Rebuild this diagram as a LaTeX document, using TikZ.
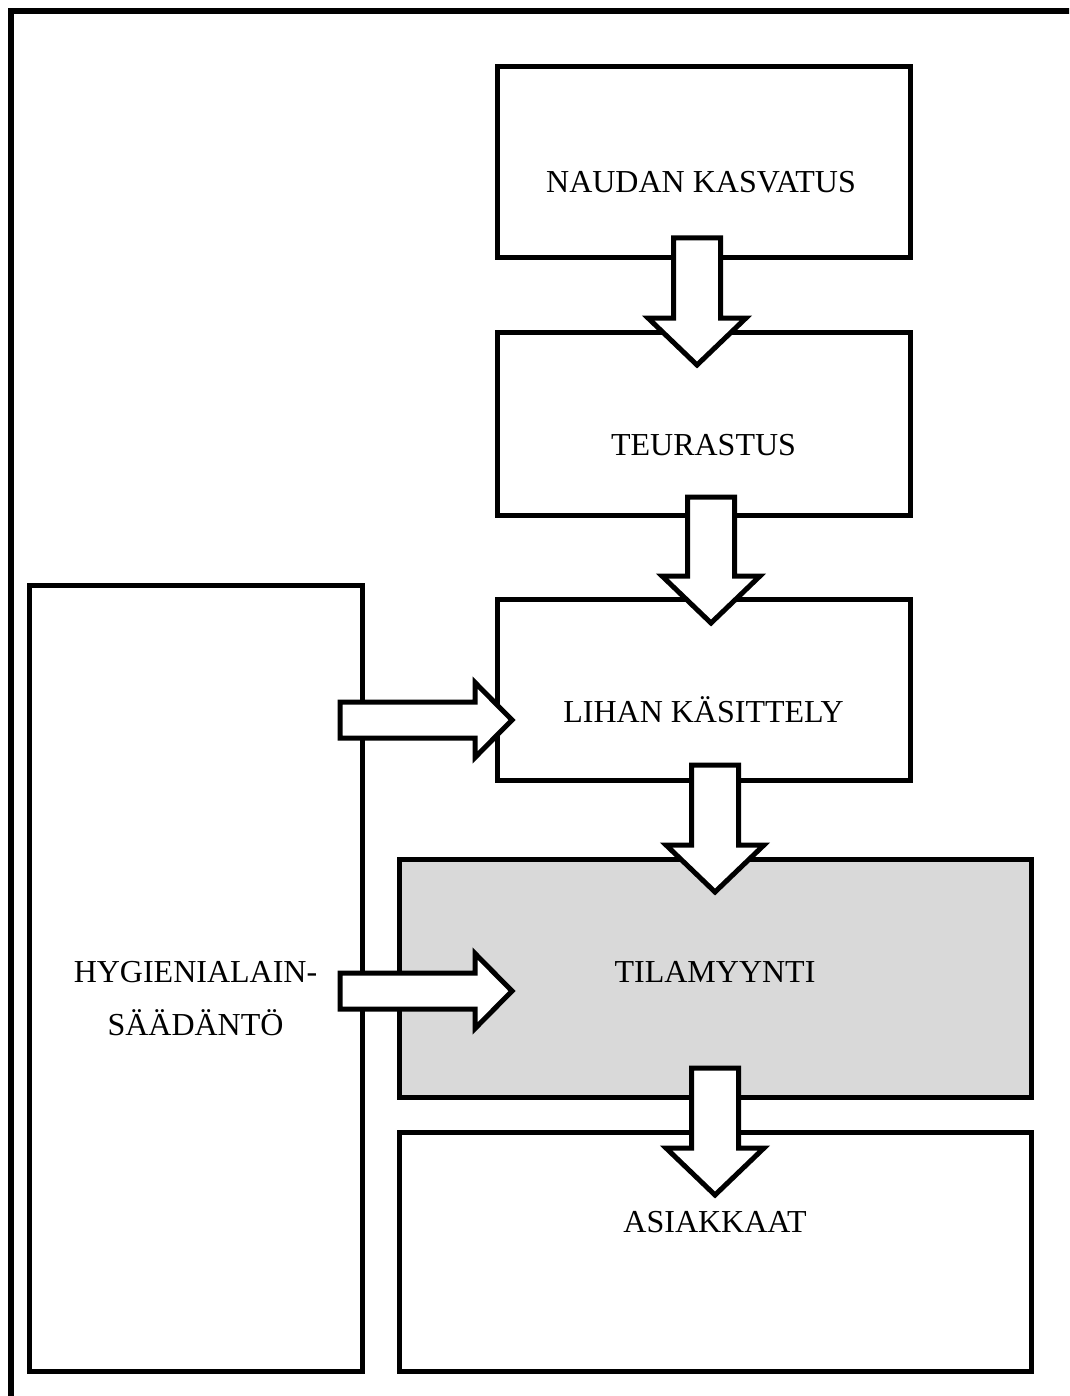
\documentclass[tikz,border=0pt]{standalone}
\usepackage{fontspec}
\setmainfont{Liberation Serif}
\usetikzlibrary{calc}
\definecolor{tilagray}{RGB}{217,217,217}
\def\downblock(#1)(#2){\draw[blockarrow] ($(#1)+(-23.5,0)$) -- ($(#2)+(-23.5,-47)$) -- ($(#2)+(-49,-47)$) -- (#2) -- ($(#2)+(49,-47)$) -- ($(#2)+(23.5,-47)$) -- ($(#1)+(23.5,0)$) -- cycle;}
\def\rightblock(#1)(#2){\draw[blockarrow] ($(#1)+(0,-18)$) -- ($(#2)+(-37,-18)$) -- ($(#2)+(-37,-37.5)$) -- (#2) -- ($(#2)+(-37,37.5)$) -- ($(#2)+(-37,18)$) -- ($(#1)+(0,18)$) -- cycle;}

\begin{document}
\begin{tikzpicture}[x=1pt, y=-1pt,
    box/.style={draw, line width=5pt, inner sep=0pt},
    blockarrow/.style={draw, fill=white, line width=5pt, line join=miter},
    lbl/.style={anchor=base, inner sep=0pt, font=\fontsize{32}{54}\selectfont}]
			%%%%% START %%%%%
			
			\clip (0, 0) rectangle (1069, 1396);
			\draw[line width=5.5pt] (11, 1420) -- (11, 11) -- (1090, 11);
			
			% boxes
			\node[box, minimum width=413pt, minimum height=191pt] (naudan) at (703.5, 162.5) {};
			\node[box, minimum width=413pt, minimum height=183pt] (teurastus) at (703.5, 423.5) {};
			\node[box, minimum width=413pt, minimum height=181pt] (lihan) at (703.5, 689.5) {};
			\node[box, fill=tilagray, minimum width=632pt, minimum height=238pt] (tilamyynti) at (715, 978) {};
			\node[box, minimum width=632pt, minimum height=239pt] (asiakkaat) at (715, 1251.5) {};
			\node[box, minimum width=333pt, minimum height=786pt] (hygienia) at (195.5, 978) {};
			
			% texts
			\node[lbl] (naudan-t) at (701, 193) {NAUDAN KASVATUS};
			\node[lbl] (teurastus-t) at (703.5, 455) {TEURASTUS};
			\node[lbl] (lihan-t) at (703.5, 722) {LIHAN KÄSITTELY};
			\node[lbl] (tilamyynti-t) at (715, 982) {TILAMYYNTI};
			\node[lbl] (asiakkaat-t) at (715, 1232) {ASIAKKAAT};
			\node[lbl] (hygienia-t1) at (195.5, 982) {HYGIENIALAIN-};
			\node[lbl] (hygienia-t2) at (195.5, 1035) {SÄÄDÄNTÖ};
			
			% arrow ends
			\coordinate (a1s) at (697, 238);
			\coordinate (a1t) at (697, 365);
			\coordinate (a2s) at (711, 497);
			\coordinate (a2t) at (711, 623);
			\coordinate (a3s) at (715, 765);
			\coordinate (a3t) at (715, 892);
			\coordinate (a4s) at (715, 1068);
			\coordinate (a4t) at (715, 1195);
			\coordinate (r1s) at (340, 720);
			\coordinate (r1t) at (512, 720);
			\coordinate (r2s) at (340, 991);
			\coordinate (r2t) at (512, 991);
			
			\downblock(a1s)(a1t);
			\downblock(a2s)(a2t);
			\downblock(a3s)(a3t);
			\downblock(a4s)(a4t);
			\rightblock(r1s)(r1t);
			\rightblock(r2s)(r2t);
			
			%%%%% END %%%%%
\end{tikzpicture}
\end{document}
